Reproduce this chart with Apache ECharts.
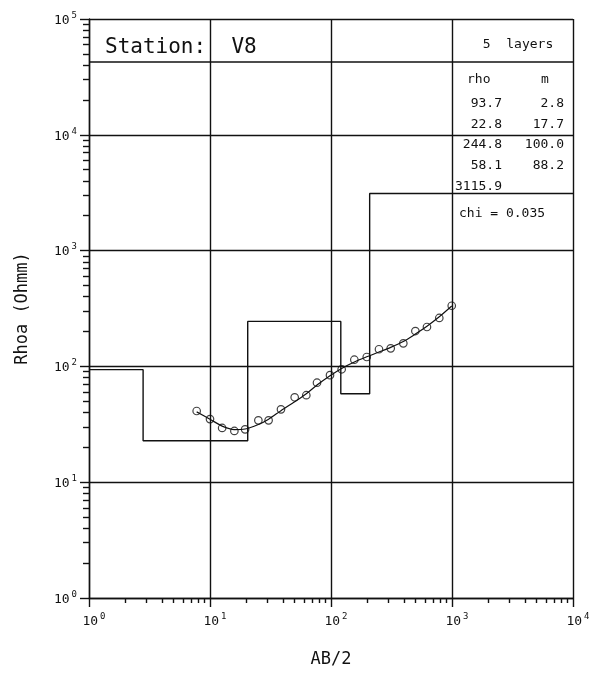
<html>
<head>
    <meta charset="utf-8">
    <script src='https://cdn.jsdelivr.net/npm/echarts@6/dist/echarts.min.js'></script>
    <style>
        html, body, #main {
            width: 100%;
            height: 100%;
            margin: 0;
            background: #fff;
        }
    </style>
</head>
<body>
<div id='main'></div>
<script>
    // observed sounding (AB/2 in m, apparent resistivity in Ohmm)
    var abHalf = [7.76, 10, 12.6, 15.9, 19.5, 25.1, 30.5, 38.6, 50.1, 62.5, 76.6,
        98.1, 122.5, 155.9, 197.4, 249.2, 311.5, 396, 498, 621, 785, 995];
    var rhoaObs = [41.2, 35.1, 29.4, 27.7, 28.6, 34.2, 34.2, 42.6, 54.1, 56.4, 72.3,
        84.0, 94.4, 114.2, 120.5, 140.6, 143.3, 158.2, 202, 219, 262, 334];
    // model response curve
    var rhoaFit = [40.5, 35, 30.5, 28.5, 28.8, 31.5, 35, 41.5, 49.5, 58, 69,
        83, 96, 109, 121, 133, 146, 164, 190, 222, 268, 332];

    // layered model
    var layerRho = [93.7, 22.8, 244.8, 58.1, 3115.9];
    var layerThick = [2.8, 17.7, 100.0, 88.2];

    var xDecades = [1, 10, 100, 1000, 10000];
    var yDecades = [1, 10, 100, 1000, 10000, 100000];

    var FONT = 'DejaVu Sans Mono';
    var INK = '#111';

    // step model: each layer starts at the depth of the previous interfaces
    var modelData = [[xDecades[0], layerRho[0]]];
    var depth = 0;
    for (var i = 0; i < layerThick.length; i++) {
        depth += layerThick[i];
        modelData.push([depth, layerRho[i + 1]]);
    }
    modelData.push([xDecades[xDecades.length - 1], layerRho[layerRho.length - 1]]);

    var obsData = [], fitData = [];
    for (var i = 0; i < abHalf.length; i++) {
        obsData.push([abHalf[i], rhoaObs[i]]);
        fitData.push([abHalf[i], rhoaFit[i]]);
    }

    function minors(decades) {
        var out = [];
        for (var d = 0; d < decades.length - 1; d++) {
            for (var k = 2; k <= 9; k++) out.push(decades[d] * k);
        }
        return out;
    }

    function expLabel(v) {
        var e = Math.round(Math.log(v) / Math.LN10);
        return '{b|10}{s|' + e + '}';
    }

    var richX = {
        b: {fontFamily: FONT, fontSize: 13, color: INK, lineHeight: 16, verticalAlign: 'bottom', padding: [0, 0, 0, 10]},
        s: {fontFamily: FONT, fontSize: 9, color: INK, lineHeight: 16, verticalAlign: 'top', padding: [0, 0, 0, 2]}
    };
    var richY = {
        b: {fontFamily: FONT, fontSize: 13, color: INK, lineHeight: 16, verticalAlign: 'bottom'},
        s: {fontFamily: FONT, fontSize: 9, color: INK, lineHeight: 16, verticalAlign: 'top', padding: [0, 0, 0, 2]}
    };

    var LW = 1.4;
    var gridLine = {show: true, lineStyle: {color: INK, width: LW}};

    var chart = echarts.init(document.getElementById('main'));

    var txt = function (x, y, s, size, align) {
        return {
            type: 'text', x: x, y: y, silent: true,
            style: {text: s, fill: INK, font: size + 'px "' + FONT + '"', align: align || 'left', verticalAlign: 'middle'}
        };
    };

    var table = [];
    var rowY = [103.5, 124.5, 145, 166, 187];
    for (var i = 0; i < layerRho.length; i++) {
        table.push(txt(502, rowY[i], layerRho[i].toFixed(1), 13, 'right'));
        if (i < layerThick.length) table.push(txt(564, rowY[i], layerThick[i].toFixed(1), 13, 'right'));
    }

    var option = {
        animation: false,
        grid: {left: 89, top: 19, right: 29, bottom: 76},
        xAxis: [{
            type: 'log', logBase: 10, min: 1, max: 10000,
            name: 'AB/2', nameLocation: 'middle', nameGap: 53,
            nameTextStyle: {fontFamily: FONT, fontSize: 17, color: INK},
            axisLine: {lineStyle: {color: INK, width: LW}},
            axisTick: {show: true, length: 9, lineStyle: {color: INK, width: LW}, customValues: xDecades},
            axisLabel: {margin: 14, formatter: expLabel, rich: richX, customValues: xDecades},
            splitLine: gridLine
        }, {
            type: 'log', logBase: 10, min: 1, max: 10000, position: 'bottom',
            axisLine: {show: false},
            axisTick: {show: true, length: 5, lineStyle: {color: INK, width: LW}, customValues: minors(xDecades)},
            axisLabel: {show: false},
            splitLine: {show: false}
        }],
        yAxis: [{
            type: 'log', logBase: 10, min: 1, max: 100000,
            name: 'Rhoa (Ohmm)', nameLocation: 'middle', nameGap: 58,
            nameTextStyle: {fontFamily: FONT, fontSize: 17, color: INK},
            axisLine: {lineStyle: {color: INK, width: LW}},
            axisTick: {show: true, length: 9, lineStyle: {color: INK, width: LW}, customValues: yDecades},
            axisLabel: {margin: 12, formatter: expLabel, rich: richY, customValues: yDecades},
            splitLine: gridLine
        }, {
            type: 'log', logBase: 10, min: 1, max: 100000, position: 'left',
            axisLine: {show: false},
            axisTick: {show: true, length: 6, lineStyle: {color: INK, width: LW}, customValues: minors(yDecades)},
            axisLabel: {show: false},
            splitLine: {show: false}
        }],
        series: [{
            type: 'line', name: 'model', step: 'end', data: modelData,
            symbol: 'none', lineStyle: {color: INK, width: LW}, z: 3
        }, {
            type: 'line', name: 'fit', data: fitData, smooth: 0.3,
            symbol: 'none', lineStyle: {color: INK, width: 1.2}, z: 4
        }, {
            type: 'scatter', name: 'observed', data: obsData,
            symbol: 'circle', symbolSize: 7.5,
            itemStyle: {color: 'rgba(0,0,0,0)', borderColor: INK, borderWidth: 1.2}, z: 5
        }],
        graphic: [
            {
                type: 'line', silent: true, z: 10,
                shape: {x1: 89, y1: 62, x2: 573, y2: 62},
                style: {stroke: INK, lineWidth: LW}
            },
            txt(105, 48, 'Station:  V8', 21),
            txt(518, 45, '5  layers', 13, 'center'),
            txt(467, 80, 'rho', 13),
            txt(545, 80, 'm', 13, 'center'),
            txt(459, 214, 'chi = 0.035', 13)
        ].concat(table)
    };

    chart.setOption(option);
</script>
</body>
</html>
